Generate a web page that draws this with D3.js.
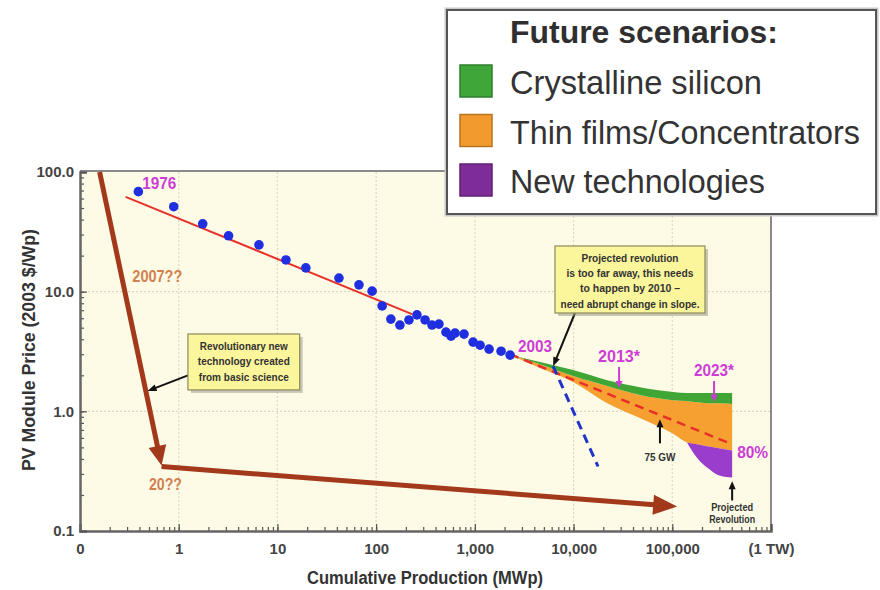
<!DOCTYPE html>
<html><head><meta charset="utf-8">
<script src="https://cdn.jsdelivr.net/npm/d3@7"></script>
<style>body{margin:0;background:#fff}svg{display:block}</style>
</head><body><svg id="c" width="880" height="590"></svg>
<script>
// ---- data ----
const historicX = [0.39, 0.89, 1.75, 3.2, 6.5, 12.2, 19.4, 42, 67, 91, 115, 141, 174, 215, 259, 313, 368, 433, 510, 574, 630, 777, 959, 1129, 1393, 1844, 2275];
const historicY = [68.5, 51.3, 36.9, 29.3, 24.6, 18.4, 15.8, 13.0, 11.4, 10.1, 7.6, 5.9, 5.26, 5.8, 6.4, 5.8, 5.26, 5.36, 4.59, 4.25, 4.51, 4.42, 3.79, 3.57, 3.31, 3.18, 2.95];
const trendX = [0.29, 231];
const trendY = [62, 6.5];
const trend80X = [2275, 404000];
const trend80Y = [3.0, 0.53];
const futureX = [2275, 4580, 9900, 21900, 47000, 102000, 141000, 178000, 225000, 305000, 404000];
const siliconHigh = [2.95, 2.58, 2.21, 1.82, 1.59, 1.45, 1.42, 1.42, 1.42, 1.42, 1.42];
const siliconLow = [2.95, 2.48, 1.97, 1.63, 1.37, 1.24, 1.22, 1.19, 1.17, 1.17, 1.15];
const thinFilmLow = [2.95, 2.30, 1.76, 1.17, 0.88, 0.65, 0.55, 0.53, 0.51, 0.49, 0.47];
const newTechX = [141000, 178000, 225000, 305000, 404000];
const newTechHigh = [0.55, 0.53, 0.51, 0.49, 0.47];
const newTechLow = [0.55, 0.41, 0.34, 0.29, 0.28];
const abruptX = [6210, 17700];
const abruptY = [2.38, 0.346];
const revArrow1X = [0.158, 0.67];
const revArrow1Y = [100, 0.352];
const revArrow2X = [0.67, 112000];
const revArrow2Y = [0.352, 0.16];
const xTickVals = [0.1, 1, 10, 100, 1000, 10000, 100000, 1000000];
const xTickLabels = ["0", "1", "10", "100", "1,000", "10,000", "100,000", "(1 TW)"];
const yTickVals = [0.1, 1, 10, 100];
const yTickLabels = ["0.1", "1.0", "10.0", "100.0"];
const legendTitle = "Future scenarios:";
const legendNames = ["Crystalline silicon", "Thin films/Concentrators", "New technologies"];
const legendColors = ["#3fa73a", "#f29a2e", "#7e2c98"];

// ---- setup ----
const svg = d3.select("#c");
const FN = '"Liberation Sans",Arial,sans-serif';
const x = d3.scaleLog().domain([0.1, 1e6]).range([80, 771]);
const y = d3.scaleLog().domain([0.1, 100]).range([531, 172]);

svg.append("rect").attr("width", 880).attr("height", 590).attr("fill", "#fff");
svg.append("rect").attr("x", x(0.1)).attr("y", y(100) - 1).attr("width", x(1e6) - x(0.1)).attr("height", y(0.1) - y(100) + 1).attr("fill", "#fdfbe6");

// grid
const grid = svg.append("g").attr("stroke", "#ddd9bf").attr("stroke-width", 1.2).attr("stroke-dasharray", "2,2");
xTickVals.slice(1, -1).forEach(v => grid.append("line").attr("x1", x(v)).attr("x2", x(v)).attr("y1", y(100)).attr("y2", y(0.1)));
yTickVals.slice(1, -1).forEach(v => grid.append("line").attr("y1", y(v)).attr("y2", y(v)).attr("x1", x(0.1)).attr("x2", x(1e6)));

// frame top/right
svg.append("line").attr("x1", x(0.1)).attr("x2", x(1e6)).attr("y1", y(100) - 1).attr("y2", y(100) - 1).attr("stroke", "#8a8a8a").attr("stroke-width", 2);
svg.append("line").attr("x1", x(1e6)).attr("x2", x(1e6)).attr("y1", y(100) - 1).attr("y2", y(0.1)).attr("stroke", "#8a8a8a").attr("stroke-width", 2);

// bands
const curve = d3.curveMonotoneX;
const idx = futureX.map((d, i) => i);
const area = (lo, hi, xs) => d3.area().curve(curve).x(i => x(xs[i])).y0(i => y(lo[i])).y1(i => y(hi[i]));
svg.append("path").datum(idx).attr("d", area(thinFilmLow, siliconLow, futureX)).attr("fill", "#f5a030");
svg.append("path").datum(idx).attr("d", area(siliconLow, siliconHigh, futureX)).attr("fill", "#3fa535");
svg.append("path").datum(newTechX.map((d, i) => i)).attr("d", area(newTechLow, newTechHigh, newTechX)).attr("fill", "#9b3dcc");

// lines
const line = d3.line().x(d => x(d[0])).y(d => y(d[1]));
svg.append("path").attr("d", line(d3.zip(trend80X, trend80Y))).attr("fill", "none").attr("stroke", "#e8302a").attr("stroke-width", 2.5).attr("stroke-dasharray", "9,6");
svg.append("path").attr("d", line(d3.zip(abruptX, abruptY))).attr("fill", "none").attr("stroke", "#2233cc").attr("stroke-width", 3).attr("stroke-dasharray", "9,6");
svg.append("path").attr("d", line(d3.zip(trendX, trendY))).attr("fill", "none").attr("stroke", "#e8302a").attr("stroke-width", 2);

// arrow helper
function arrow(g, x1, y1, x2, y2, color, w, hl, hw) {
  const dx = x2 - x1, dy = y2 - y1, L = Math.hypot(dx, dy), ux = dx / L, uy = dy / L;
  const bx = x2 - ux * hl, by = y2 - uy * hl;
  g.append("line").attr("x1", x1).attr("y1", y1).attr("x2", bx + ux * 1).attr("y2", by + uy * 1).attr("stroke", color).attr("stroke-width", w);
  g.append("polygon").attr("points", [[x2, y2], [bx - uy * hw / 2, by + ux * hw / 2], [bx + uy * hw / 2, by - ux * hw / 2]].map(p => p.join(",")).join(" ")).attr("fill", color);
}
const ann = svg.append("g");
arrow(ann, x(revArrow1X[0]), y(revArrow1Y[0]), x(revArrow1X[1]), y(revArrow1Y[1]), "#a3391b", 5, 20, 18);
arrow(ann, x(revArrow2X[0]), y(revArrow2Y[0]) + 1, x(revArrow2X[1]), y(revArrow2Y[1]), "#a3391b", 5, 24, 20);

// points
svg.append("g").selectAll("circle").data(d3.zip(historicX, historicY)).join("circle")
  .attr("cx", d => x(d[0])).attr("cy", d => y(d[1])).attr("r", 4.8).attr("fill", "#1f2fe0");

// axes
const ax = svg.append("g").attr("transform", `translate(0,${y(0.1)})`);
ax.call(d3.axisBottom(x).tickValues(x.ticks()).tickSize(-4).tickFormat(""));
ax.call(g => g.select(".domain").remove());
const ax2 = svg.append("g").attr("transform", `translate(0,${y(0.1)})`);
ax2.call(d3.axisBottom(x).tickValues(xTickVals).tickSize(-7).tickPadding(19).tickFormat((d, i) => xTickLabels[i]));
const ay = svg.append("g").attr("transform", `translate(${x(0.1)},0)`);
ay.call(d3.axisLeft(y).tickValues(y.ticks()).tickSize(-4).tickFormat(""));
ay.call(g => g.select(".domain").remove());
const ay2 = svg.append("g").attr("transform", `translate(${x(0.1)},0)`);
ay2.call(d3.axisLeft(y).tickValues(yTickVals).tickSize(-7).tickPadding(13).tickFormat((d, i) => yTickLabels[i]));
[ax, ax2, ay, ay2].forEach(g => { g.selectAll(".tick line").attr("stroke", "#555").attr("stroke-width", 1.2); });
[ax2, ay2].forEach(g => {
  g.select(".domain").attr("stroke", "#666").attr("stroke-width", 2.5);
  g.selectAll(".tick text").attr("font-family", FN).attr("font-size", 15).attr("font-weight", "bold").attr("fill", "#444");
});
ay2.selectAll(".tick text").attr("x", -6);
ax2.selectAll(".tick text").attr("y", 12);

// axis titles
svg.append("text").attr("x", 425).attr("y", 584).attr("text-anchor", "middle").attr("font-family", FN).attr("font-size", 18).attr("font-weight", "bold").attr("fill", "#333").attr("textLength", 236).attr("lengthAdjust", "spacingAndGlyphs").text("Cumulative Production (MWp)");
svg.append("text").attr("transform", "translate(35,350) rotate(-90)").attr("text-anchor", "middle").attr("font-family", FN).attr("font-size", 18).attr("font-weight", "bold").attr("fill", "#333").attr("textLength", 242).attr("lengthAdjust", "spacingAndGlyphs").text("PV Module Price (2003 $/Wp)");

// text helper
function label(t, px, py, opts) {
  const e = svg.append("text").attr("x", px).attr("y", py).attr("font-family", FN).attr("font-weight", "bold")
    .attr("font-size", opts.size || 15).attr("fill", opts.color || "#333").attr("text-anchor", opts.anchor || "start").text(t);
  if (opts.len) e.attr("textLength", opts.len).attr("lengthAdjust", "spacingAndGlyphs");
  return e;
}
const MAG = "#cc3dd6";
label("1976", x(historicX[0]) + 4, y(historicY[0]) - 3, {color: MAG, size: 16, len: 34});
label("2003", x(2275) + 8, y(2.95) - 3, {color: MAG, size: 16, len: 34});
label("2013*", x(28900), y(2.57), {color: MAG, size: 16, len: 42, anchor: "middle"});
arrow(ann, x(28900), y(2.35), x(28900), y(1.57), MAG, 2, 7, 7);
label("2023*", x(265000), y(1.98), {color: MAG, size: 16, len: 40, anchor: "middle"});
arrow(ann, x(265000), y(1.79), x(265000), y(1.20), MAG, 2, 7, 7);
label("80%", x(404000) + 5, y(0.47) + 7, {color: MAG, size: 16, len: 31});
label("2007??", x(0.39) - 6, y(12), {color: "#d1814f", size: 16, len: 50});
label("20??", x(0.5), y(0.22), {color: "#d1814f", size: 16, len: 33});
label("75 GW", x(75000), y(0.45) + 8, {color: "#333", size: 11, anchor: "middle", len: 31});
arrow(ann, x(75000), y(0.54), x(75000), y(0.86), "#111", 2, 8, 7);
label("Projected", x(404000), 511, {color: "#333", size: 11, anchor: "middle", len: 42});
label("Revolution", x(404000), 523, {color: "#333", size: 11, anchor: "middle", len: 46});
arrow(ann, x(404000), y(0.18), x(404000), y(0.26), "#111", 2, 8, 7);

// callouts
function callout(x0, y0, w, h, lines, lens, lh, size) {
  svg.append("rect").attr("x", x0 + 3).attr("y", y0 + 3).attr("width", w).attr("height", h).attr("fill", "#9a9a8a").attr("opacity", 0.55);
  svg.append("rect").attr("x", x0).attr("y", y0).attr("width", w).attr("height", h).attr("fill", "#fbf59c").attr("stroke", "#8c8a5c").attr("stroke-width", 1.2);
  lines.forEach((t, i) => label(t, x0 + w / 2, y0 + 16 + i * lh, {size: size, color: "#333", anchor: "middle", len: lens[i]}));
}
callout(x(1.24), y(4.43), x(16.8) - x(1.24), y(1.51) - y(4.43), ["Revolutionary new", "technology created", "from basic science"], [88, 92, 90], 15.5, 11.5);
arrow(ann, x(1.24), y(2.0), x(0.67) - 14, y(1.48), "#111", 2, 9, 7);
callout(555, 246, 150, 67, ["Projected revolution", "is too far away, this needs", "to happen by 2010 \u2013", "need abrupt change in slope."], [97, 127, 100, 139], 15.2, 11.5);
arrow(ann, 575, 313, x(abruptX[0]), y(abruptY[0]), "#111", 2, 9, 7);

// legend
const lg = svg.append("g");
lg.append("rect").attr("x", 447).attr("y", 10).attr("width", 429).attr("height", 204).attr("fill", "#fff").attr("stroke", "#c8c8c8").attr("stroke-width", 5);
lg.append("rect").attr("x", 447).attr("y", 10).attr("width", 429).attr("height", 204).attr("fill", "#fff").attr("stroke", "#555").attr("stroke-width", 2);
lg.append("text").attr("x", 510).attr("y", 43).attr("font-family", FN).attr("font-weight", "bold").attr("font-size", 31).attr("fill", "#2f2f2f").attr("textLength", 268).attr("lengthAdjust", "spacingAndGlyphs").text(legendTitle);
const legLens = [252, 350, 255];
legendNames.forEach((n, i) => {
  const by = 94 + i * 49.5;
  lg.append("rect").attr("x", 460).attr("y", by - 29).attr("width", 32).attr("height", 32).attr("fill", legendColors[i]).attr("stroke", d3.color(legendColors[i]).darker(0.8)).attr("stroke-width", 1.5);
  lg.append("text").attr("x", 510).attr("y", by).attr("font-family", FN).attr("font-size", 34).attr("fill", "#333").attr("textLength", legLens[i]).attr("lengthAdjust", "spacingAndGlyphs").text(n);
});
</script></body></html>
